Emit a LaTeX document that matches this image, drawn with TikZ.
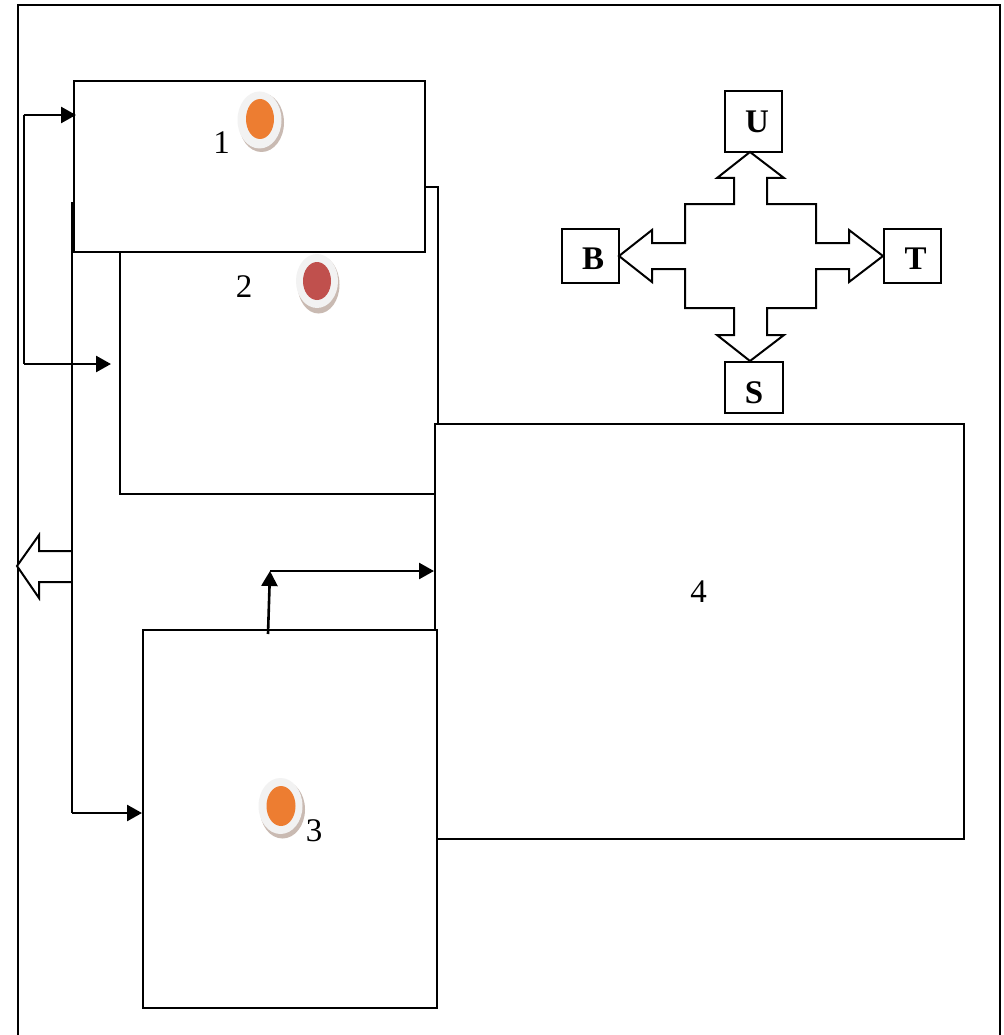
\documentclass[tikz,border=0pt]{standalone}
\usepackage{fontspec}
\setmainfont{Liberation Serif}
\usetikzlibrary{arrows.meta,shapes.geometric,calc}
\tikzset{
  blockbox/.style={draw=black,fill=white,line width=2pt,rectangle,inner sep=0pt,anchor=north west},
  letterbox/.style={draw=black,fill=white,line width=2pt,rectangle,inner sep=0pt,anchor=north west},
  numlabel/.style={font=\fontsize{33}{33}\selectfont,inner sep=0pt},
  letterlabel/.style={font=\fontsize{33}{33}\selectfont\bfseries,inner sep=0pt},
  conn/.style={draw=black,line width=2.6pt},
  arrowconn/.style={conn,-{Triangle[length=15pt,width=16pt]}},
  hollow/.style={draw=black,fill=white,line width=2pt,line join=miter,miter limit=10},
  dotshadow/.style={ellipse,fill=#1,inner sep=0pt},
  dotring/.style={ellipse,fill=black!5,inner sep=0pt},
  dotcore/.style={ellipse,fill=#1,inner sep=0pt}
}
\definecolor{dotorange}{HTML}{ED7D31}
\definecolor{dotred}{HTML}{C0504D}
\definecolor{dotshade}{HTML}{C9BAB2}
\begin{document}
\begin{tikzpicture}[x=1pt,y=-1pt]
\useasboundingbox (0,0) rectangle (1003,1035);
\fill[white] (0,0) rectangle (1003,1035);
% frame, running off the bottom of the page
\draw[line width=2.2pt,line join=miter] (18,1035) -- (18,5) -- (1000,5) -- (1000,1035);

% blocks
\node[blockbox,minimum width=317.5pt,minimum height=307pt] (box2) at (119,186) {};
\node[blockbox,minimum width=351pt,minimum height=171pt] (box1) at (73,80) {};
\node[blockbox,minimum width=529pt,minimum height=415pt] (box4) at (434,423) {};
\node[blockbox,minimum width=294pt,minimum height=378pt] (box3) at (142,629) {};

% letter boxes
\node[letterbox,minimum width=57pt,minimum height=61pt] (boxU) at (724,90) {};
\node[letterbox,minimum width=58pt,minimum height=51pt] (boxS) at (724,361) {};
\node[letterbox,minimum width=57pt,minimum height=54pt] (boxB) at (561,228) {};
\node[letterbox,minimum width=57pt,minimum height=54pt] (boxT) at (883,228) {};
\node[letterlabel] (lblU) at (757,122) {U};
\node[letterlabel] (lblS) at (754,393) {S};
\node[letterlabel] (lblB) at (593,259) {B};
\node[letterlabel] (lblT) at (915.5,259) {T};

% four-way hollow arrow
\draw[hollow] (750,152) -- (784,178) -- (767,178) -- (767,204) -- (816,204) -- (816,243)
  -- (849,243) -- (849,230) -- (883,256) -- (849,282) -- (849,269) -- (816,269) -- (816,308)
  -- (767,308) -- (767,335) -- (784,335) -- (750,361) -- (717,335) -- (734,335) -- (734,308)
  -- (685,308) -- (685,269) -- (652,269) -- (652,282) -- (619,256) -- (652,230) -- (652,243)
  -- (685,243) -- (685,204) -- (734,204) -- (734,178) -- (717,178) -- cycle;

% left hollow arrow
\draw[hollow] (71.5,551) -- (39,551) -- (39,535) -- (17,566) -- (39,598) -- (39,582) -- (71.5,582);

% connectors
\coordinate (busTop) at (23.5,115);
\coordinate (busBot) at (23.5,364);
\coordinate (midIn) at (111,364);
\coordinate (feedTop) at (71.5,202);
\coordinate (feedBot) at (71.5,813);
\coordinate (upStart) at (268,634);
\coordinate (upEnd) at (270,571);
\draw[conn,line width=2pt] (busTop) -- (busBot);
\draw[arrowconn,shorten >=-3pt] (busTop) -- (busTop -| box1.west);
\draw[arrowconn] (busBot) -- (midIn);
\draw[conn,line width=2pt] (feedTop) -- (feedBot);
\draw[arrowconn] (feedBot) -- (feedBot -| box3.west);
\draw[arrowconn] (upStart) -- (upEnd);
\draw[arrowconn] (upEnd) -- (upEnd -| box4.west);

% dots
\node[dotshadow=dotshade,minimum width=45pt,minimum height=59pt] (s1) at (261.5,122.5) {};
\node[dotring,minimum width=44pt,minimum height=57pt] (r1) at (259.5,120) {};
\node[dotcore=dotorange,minimum width=28pt,minimum height=40pt] (c1) at (260,119) {};
\node[dotshadow=dotshade,minimum width=42pt,minimum height=58pt] (s2) at (318.5,284.5) {};
\node[dotring,minimum width=42pt,minimum height=54pt] (r2) at (317,281) {};
\node[dotcore=dotred,minimum width=28pt,minimum height=38pt] (c2) at (317,281) {};
\node[dotshadow=dotshade,minimum width=45pt,minimum height=58pt] (s3) at (282.5,809.5) {};
\node[dotring,minimum width=44pt,minimum height=56pt] (r3) at (280.5,806) {};
\node[dotcore=dotorange,minimum width=29pt,minimum height=40pt] (c3) at (281,806) {};

% numbers
\node[numlabel] (n1) at (221.5,143) {1};
\node[numlabel] (n2) at (244,287) {2};
\node[numlabel] (n3) at (314,831) {3};
\node[numlabel] (n4) at (698.5,591.5) {4};
\end{tikzpicture}
\end{document}
